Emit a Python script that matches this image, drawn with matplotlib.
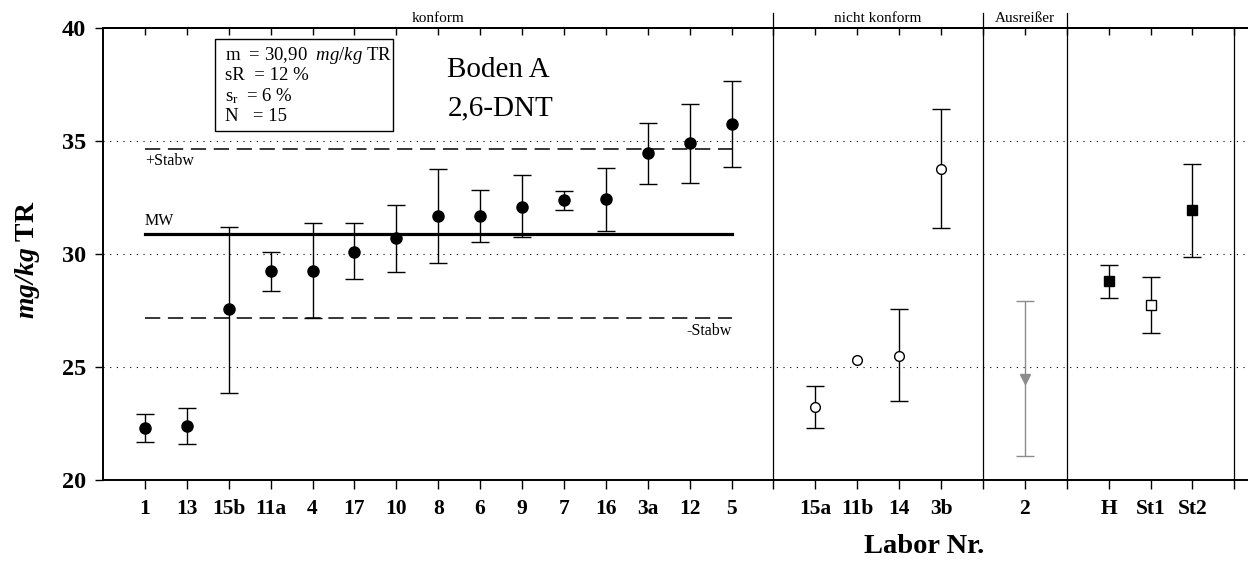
import numpy as np
import matplotlib
matplotlib.use("Agg")
import matplotlib.pyplot as plt
from matplotlib.patches import Rectangle

plt.rcParams['font.family'] = ['Liberation Serif', 'DejaVu Serif']
plt.rcParams['mathtext.fontset'] = 'custom'
plt.rcParams['mathtext.rm'] = 'Liberation Serif'
plt.rcParams['mathtext.it'] = 'Liberation Serif:italic'
plt.rcParams['mathtext.bf'] = 'Liberation Serif:bold'
plt.rcParams['mathtext.bfit'] = 'Liberation Serif:bold:italic'

# ---------------- data ----------------
konform_labels = ['1', '13', '15b', '11a', '4', '17', '10', '8', '6', '9', '7', '16', '3a', '12', '5']
konform_vals = [22.3, 22.4, 27.55, 29.25, 29.25, 30.1, 30.7, 31.7, 31.7, 32.1, 32.4, 32.45, 34.45, 34.9, 35.75]
konform_hi = [22.9, 23.2, 31.2, 30.1, 31.35, 31.35, 32.15, 33.75, 32.85, 33.5, 32.8, 33.8, 35.8, 36.65, 37.65]
konform_lo = [21.7, 21.6, 23.85, 28.35, 27.15, 28.9, 29.2, 29.6, 30.55, 30.75, 31.95, 31.0, 33.1, 33.15, 33.85]

nicht_labels = ['15a', '11b', '14', '3b']
nicht_vals = [23.25, 25.3, 25.5, 33.75]
nicht_hi = [24.15, np.nan, 27.55, 36.4]
nicht_lo = [22.3, np.nan, 23.5, 31.15]

aus_labels = ['2']
aus_vals = [24.45]
aus_hi = [27.9]
aus_lo = [21.05]

ref_labels = ['H', 'St1', 'St2']
ref_vals = [28.8, 27.75, 31.95]
ref_hi = [29.5, 29.0, 34.0]
ref_lo = [28.05, 26.5, 29.85]

group_names = ['konform', 'nicht konform', 'Ausreißer', '']

mw = 30.90
stabw_plus = 34.65
stabw_minus = 27.15
y_ticks = [20, 25, 30, 35, 40]

# ---------------- layout of category positions ----------------
group_labels = [konform_labels, nicht_labels, aus_labels, ref_labels]
positions = []
separators = []
p = 1
for gi, gl in enumerate(group_labels):
    positions.append(list(range(p, p + len(gl))))
    p += len(gl)
    separators.append(p)
    p += 1
last_tick = separators[-1]
separators = separators[:-1]
kpos, npos, apos, rpos = positions

fig = plt.figure(figsize=(12.5, 5.63), dpi=100)
ax = fig.add_axes([0.0824, 0.1474, 0.9151, 0.8029])
xmax = last_tick + 0.3
ax.set_xlim(0, xmax)
ax.set_ylim(20, 40)


def err(vals, hi, lo):
    v = np.array(vals, float)
    return np.vstack([v - np.array(lo, float), np.array(hi, float) - v])


# grid
for yv in [25, 30, 35]:
    ax.axhline(yv, color='black', lw=0.8, ls=(0, (1, 5)), zorder=1)

# separators (extend above axes)
for s in separators:
    ax.plot([s, s], [20, 40.68], color='black', lw=0.9, clip_on=False, zorder=2)
ax.plot([last_tick, last_tick], [20, 40], color='black', lw=0.9, clip_on=False, zorder=2)

# MW and Stabw lines
x0, x1 = kpos[0], kpos[-1]
ax.plot([x0, x1], [mw, mw], color='black', lw=2.3, zorder=3)
ax.plot([x0, x1], [stabw_plus, stabw_plus], color='black', lw=1.1, ls=(0, (10, 5)), zorder=3)
ax.plot([x0, x1], [stabw_minus, stabw_minus], color='black', lw=1.1, ls=(0, (10, 5)), zorder=3)
ax.text(x0, mw + 0.22, 'MW', fontsize=11.5, ha='left', va='bottom')
ax.text(x0, stabw_plus - 0.2, '+Stabw', fontsize=11.5, ha='left', va='top')
ax.text(x1, stabw_minus - 0.2, '-Stabw', fontsize=11.5, ha='right', va='top')

ekw = dict(capsize=6.5, elinewidth=1.0, capthick=1.0, ls='none', zorder=4)
ax.errorbar(kpos, konform_vals, yerr=err(konform_vals, konform_hi, konform_lo),
            fmt='o', color='black', ms=8, **ekw)
ax.errorbar(npos, nicht_vals, yerr=err(nicht_vals, nicht_hi, nicht_lo),
            fmt='o', color='black', mfc='white', mec='black', ms=7, mew=1.0, **ekw)
ax.errorbar(apos, aus_vals, yerr=err(aus_vals, aus_hi, aus_lo),
            fmt='v', color='#8c8c8c', ms=7, **ekw)
ref_fill = ['black', 'white', 'black']
for xp, v, h, l, fc in zip(rpos, ref_vals, ref_hi, ref_lo, ref_fill):
    ax.errorbar([xp], [v], yerr=err([v], [h], [l]), fmt='s', color='black',
                mfc=fc, mec='black', ms=6.5, mew=1.0, **ekw)

# group names above the axes
bounds = [0] + separators + [last_tick]
for gi, name in enumerate(group_names):
    if name:
        ax.text((bounds[gi] + bounds[gi + 1]) / 2, 40.42, name, fontsize=11,
                ha='center', va='center', clip_on=False)

# stats box
ax.add_patch(Rectangle((2.67, 35.45), 4.24, 4.06, fill=False, ec='black', lw=1.0, zorder=5))
stats_lines = ['m  = 30,90  $\\mathit{mg/kg}$ TR', 'sR  = 12 %', 's$_\\mathrm{r}$  = 6 %', 'N   = 15']
for i, t in enumerate(stats_lines):
    ax.text(2.92, 38.8 - i * 0.9, t, fontsize=13.5, ha='left', va='center', zorder=6)

ax.text(8.22, 38.15, 'Boden A', fontsize=21, ha='left', va='center')
ax.text(8.22, 36.45, '2,6-DNT', fontsize=21, ha='left', va='center')

# axes styling
all_pos = kpos + npos + apos + rpos
all_labels = konform_labels + nicht_labels + aus_labels + ref_labels
ax.set_xticks(list(range(1, last_tick + 1)), minor=True)
ax.set_xticks(all_pos)
ax.set_xticklabels(all_labels, fontsize=15.5, fontweight='bold')
ax.tick_params(axis='x', which='both', direction='out', length=6.5, width=1.0, pad=7)
ax.set_yticks(y_ticks)
ax.set_yticklabels([str(v) for v in y_ticks], fontsize=17.5, fontweight='bold')
ax.tick_params(axis='y', direction='out', length=6, width=1.0, pad=6)
for sp in ['left', 'bottom', 'top']:
    ax.spines[sp].set_linewidth(1.4)
ax.spines['right'].set_visible(False)

sec = ax.secondary_xaxis('top')
sec.set_xticks(list(range(1, last_tick + 1)))
sec.tick_params(direction='in', length=5, width=1.0, labeltop=False)
sec.spines['top'].set_linewidth(1.4)

fig.text(0.0216, 0.538, '$\\mathbfit{mg/kg}$ TR', rotation=90, fontsize=20,
         fontweight='bold', ha='center', va='center')
fig.text(0.739, 0.030, 'Labor Nr.', fontsize=20.5, fontweight='bold', ha='center', va='center')

fig.savefig('out.png', dpi=100)
